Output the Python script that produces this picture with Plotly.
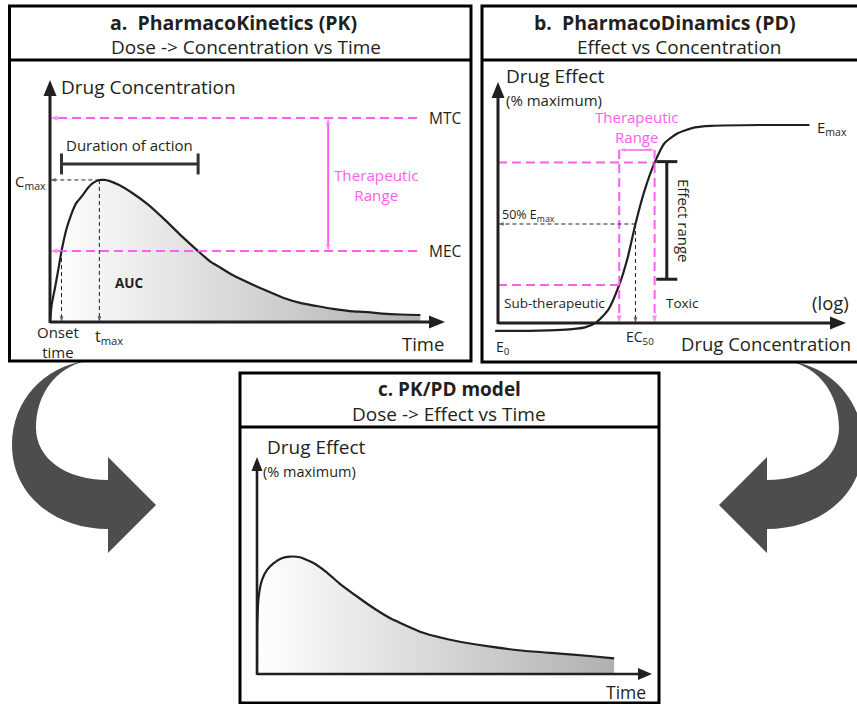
import plotly.graph_objects as go

W, H = 857, 704
FONT = "Open Sans"
INK = "#231f20"
PINK = "#ff5eee"
ARROW_GRAY = "#4d4d4f"

# ---------------- data ----------------
# a. PK: concentration (arbitrary units 0-100) vs time (h)
pk_time = [0, 0.1, 0.3, 0.5, 0.7, 1.0, 1.3, 1.6, 2.0, 2.3, 2.6, 3.0, 3.3, 3.6, 4.2, 5.0, 6.0,
           7.0, 8.0, 9.0, 9.7, 10.2, 11.1, 12.1, 13.2, 14.2, 15.2, 16.2, 17.2, 18.2, 19.3,
           20.2, 21.3, 22.5]
pk_conc = [0, 7.0, 14.0, 21.5, 29.3, 38.4, 44.6, 49.2, 52.5, 55.4, 57.4, 58.7, 58.7, 58.3,
           56.6, 53.3, 48.3, 42.1, 35.5, 29.3, 25.2, 23.1, 19.4, 16.1, 12.8, 9.9, 7.9, 6.6,
           5.4, 4.5, 4.1, 3.5, 3.1, 2.9]
pk_mtc = 84.3
pk_mec = 29.3
pk_cmax = 58.7
pk_tmax = 3.0
pk_onset = 0.7
pk_offset = 9.0
pk_duration_level = 65.3
pk_range_time = 16.9
pk_line_end = 22.3

# b. PD: effect (% maximum) vs log concentration
pd_logc = [-0.05, 0.52, 1.09, 1.50, 1.69, 1.90, 2.09, 2.24, 2.37, 2.53, 2.70, 2.87, 3.10,
           3.39, 3.68, 4.53, 5.37]
pd_eff = [-4.0, -4.0, -3.5, -2.2, 0.2, 6.6, 19.2, 33.5, 50.0, 67.2, 81.0, 90.8, 95.8, 98.8,
          99.6, 100, 100]
pd_low_eff, pd_high_eff = 19.2, 81.0
pd_low_c, pd_high_c = 2.09, 2.70
pd_ec50, pd_e50 = 2.37, 50.0
pd_bracket_eff = 87.4
pd_effect_range_c = 2.91
pd_effect_range = [22.1, 81.5]

# c. PK/PD: effect (% maximum) vs time (h)
pkpd_time = [0, 0.02, 0.1, 0.3, 0.6, 1.0, 1.5, 2.0, 2.6, 3.4, 4.2, 5.0, 6.1, 7.1, 8.1, 10.1,
             12.1, 14.2, 16.2, 18.2, 20.2, 21.7]
pkpd_eff = [0, 23.4, 35.6, 43.3, 47.9, 51.0, 53.3, 54.1, 53.8, 51.3, 47.1, 41.8, 35.6, 30.3,
            25.7, 19.0, 15.2, 12.6, 10.7, 9.5, 8.3, 7.2]


def dx(p0, p1):
    return [p0 / W, p1 / W]


def dy(top, bot):
    return [1 - bot / H, 1 - top / H]


fig = go.Figure()

# base pixel canvas (for frames, big arrows, labels)
fig.add_trace(go.Scatter(x=[0], y=[0], mode="markers", marker=dict(opacity=0),
                         hoverinfo="skip", showlegend=False))

GRAD = dict(type="horizontal", colorscale=[[0, "#ffffff"], [1, "#b0b0b0"]])

# ---- curves ----
fig.add_trace(go.Scatter(x=pk_time, y=pk_conc, xaxis="x2", yaxis="y2", mode="lines",
                         line=dict(color=INK, width=2.2, shape="spline", smoothing=0.6),
                         fill="tozeroy", fillgradient=GRAD, hoverinfo="skip", showlegend=False))
fig.add_trace(go.Scatter(x=pd_logc, y=pd_eff, xaxis="x3", yaxis="y3", mode="lines",
                         line=dict(color=INK, width=2.2, shape="spline", smoothing=0.6),
                         hoverinfo="skip", showlegend=False))
fig.add_trace(go.Scatter(x=pkpd_time, y=pkpd_eff, xaxis="x4", yaxis="y4", mode="lines",
                         line=dict(color=INK, width=2.2, shape="spline", smoothing=0.5),
                         fill="tozeroy", fillgradient=GRAD, hoverinfo="skip", showlegend=False))


def guide(x, y, xa, ya, color, width, dash, size=8):
    sizes = [0] * (len(x) - 1) + [size]
    fig.add_trace(go.Scatter(x=x, y=y, xaxis=xa, yaxis=ya, mode="lines+markers",
                             line=dict(color=color, width=width, dash=dash),
                             marker=dict(symbol="arrow", size=sizes, angleref="previous",
                                         color=color, line=dict(width=0)),
                             hoverinfo="skip", showlegend=False))


PD_DASH = "9px,5px"
BK_DASH = "4px,3px"

# panel a guides
guide([pk_line_end, 0], [pk_mtc, pk_mtc], "x2", "y2", PINK, 2, PD_DASH, 8)
guide([pk_line_end, 0], [pk_mec, pk_mec], "x2", "y2", PINK, 2, PD_DASH, 8)
mid = (pk_mtc + pk_mec) / 2
guide([pk_range_time, pk_range_time], [mid, pk_mtc], "x2", "y2", PINK, 2, "solid", 7)
guide([pk_range_time, pk_range_time], [mid, pk_mec], "x2", "y2", PINK, 2, "solid", 7)
guide([pk_tmax, 0], [pk_cmax, pk_cmax], "x2", "y2", INK, 1, BK_DASH, 6)
guide([pk_tmax, pk_tmax], [pk_cmax, 0], "x2", "y2", INK, 1, BK_DASH, 6)
guide([pk_onset, pk_onset], [pk_mec, 0], "x2", "y2", INK, 1, BK_DASH, 6)
fig.add_trace(go.Scatter(x=[pk_onset, pk_offset], y=[pk_duration_level] * 2, xaxis="x2",
                         yaxis="y2", mode="lines+markers", line=dict(color="#333333", width=3),
                         marker=dict(symbol="line-ns", size=15,
                                     line=dict(color="#333333", width=3)),
                         hoverinfo="skip", showlegend=False))

# panel b guides
fig.add_trace(go.Scatter(x=[0, pd_high_c], y=[pd_high_eff] * 2, xaxis="x3", yaxis="y3",
                         mode="lines", line=dict(color=PINK, width=2, dash=PD_DASH),
                         hoverinfo="skip", showlegend=False))
fig.add_trace(go.Scatter(x=[0, pd_low_c], y=[pd_low_eff] * 2, xaxis="x3", yaxis="y3",
                         mode="lines", line=dict(color=PINK, width=2, dash=PD_DASH),
                         hoverinfo="skip", showlegend=False))
guide([pd_low_c, pd_low_c], [pd_bracket_eff, 0], "x3", "y3", PINK, 2, PD_DASH, 8)
guide([pd_high_c, pd_high_c], [pd_bracket_eff, 0], "x3", "y3", PINK, 2, PD_DASH, 8)
cmid = (pd_low_c + pd_high_c) / 2
guide([cmid, pd_low_c], [pd_bracket_eff] * 2, "x3", "y3", PINK, 1.5, "solid", 6)
guide([cmid, pd_high_c], [pd_bracket_eff] * 2, "x3", "y3", PINK, 1.5, "solid", 6)
guide([pd_ec50, 0], [pd_e50] * 2, "x3", "y3", INK, 1, BK_DASH, 6)
guide([pd_ec50, pd_ec50], [pd_e50, 0], "x3", "y3", INK, 1, BK_DASH, 6)
fig.add_trace(go.Scatter(x=[pd_effect_range_c] * 2, y=pd_effect_range, xaxis="x3", yaxis="y3",
                         mode="lines+markers", line=dict(color=INK, width=3),
                         marker=dict(symbol="line-ew", size=15, line=dict(color=INK, width=3)),
                         hoverinfo="skip", showlegend=False))

# ---- shapes (frames, axes, big arrows) in pixel canvas ----
shapes = []


def rect(x0, y0, x1, y1):
    shapes.append(dict(type="rect", xref="x", yref="y", x0=x0, y0=y0, x1=x1, y1=y1,
                       line=dict(color="black", width=3), fillcolor="rgba(0,0,0,0)"))


def hline(x0, x1, y, w=3, color="black"):
    shapes.append(dict(type="line", xref="x", yref="y", x0=x0, x1=x1, y0=y, y1=y,
                       line=dict(color=color, width=w)))


def vline(x, y0, y1, w=3, color="black"):
    shapes.append(dict(type="line", xref="x", yref="y", x0=x, x1=x, y0=y0, y1=y1,
                       line=dict(color=color, width=w)))


def tri_up(x, y, L=16, hw=6.5):
    shapes.append(dict(type="path", xref="x", yref="y",
                       path=f"M {x} {y} L {x - hw} {y + L} L {x + hw} {y + L} Z",
                       fillcolor=INK, line=dict(width=0)))


def tri_right(x, y, L=16, hw=6.5):
    shapes.append(dict(type="path", xref="x", yref="y",
                       path=f"M {x} {y} L {x - L} {y - hw} L {x - L} {y + hw} Z",
                       fillcolor=INK, line=dict(width=0)))


# frames
rect(9.5, 6, 471, 361)
hline(9.5, 471, 60)
rect(482, 6, 870, 362)
hline(482, 870, 60)
rect(240, 373, 659, 703)
hline(240, 659, 427)

# axes panel a
vline(50, 323, 94, 3, INK); tri_up(50, 80)
hline(50, 431, 322, 3, INK); tri_right(445, 322)
# axes panel b
vline(498, 324, 96, 3, INK); tri_up(498, 82)
hline(498, 832, 323, 3, INK); tri_right(846, 323)
# axes panel c
vline(257, 675, 470, 2.6, INK); tri_up(257, 457, 14, 5.5)
hline(257, 639, 674, 2.6, INK); tri_right(652, 674, 14, 6)

# big curved arrows
left_arrow = ("M 86 361 C 45 366, 12 400, 12 445 C 12 495, 55 529, 108 529 "
              "L 108 553 L 156 505 L 108 457 L 108 480 "
              "C 65 480, 36 458, 36 428 C 36 395, 55 368, 86 361 Z")
right_arrow = ("M 789 361 C 830 366, 863 400, 863 445 C 863 495, 820 529, 767 529 "
               "L 767 553 L 719 505 L 767 457 L 767 480 "
               "C 810 480, 839 458, 839 428 C 839 395, 820 368, 789 361 Z")
for p in (left_arrow, right_arrow):
    shapes.append(dict(type="path", xref="x", yref="y", path=p, fillcolor=ARROW_GRAY,
                       line=dict(width=0), layer="below"))

# ---- text ----
ann = []


def t(x, y, text, size=15, color=INK, xanchor="left", angle=0, align="left"):
    ann.append(dict(x=x, y=y, xref="x", yref="y", text=text, showarrow=False,
                    xanchor=xanchor, yanchor="middle", textangle=angle, align=align,
                    font=dict(family=FONT, size=size, color=color)))


# panel a
t(233, 22, "<b>a.  PharmacoKinetics (PK)</b>", 19.5, xanchor="center")
t(246, 47, "Dose -&gt; Concentration vs Time", 19, xanchor="center")
t(59, 87, "Drug Concentration", 19)
t(427, 118, "MTC", 15.5)
t(427, 251, "MEC", 15.5)
t(376, 185, "Therapeutic<br>Range", 15.2, PINK, "center", align="center")
t(64, 145, "Duration of action", 15)
t(48, 182, "C<sub>max</sub>", 15, xanchor="right")
t(129, 283, "<b>AUC</b>", 13.5, xanchor="center")
t(58, 342, "Onset<br>time", 15, xanchor="center", align="center")
t(93, 336, "t<sub>max</sub>", 16)
t(400, 343, "Time", 18.5)

# panel b
t(665, 22, "<b>b.  PharmacoDinamics (PD)</b>", 19.5, xanchor="center")
t(679, 47, "Effect vs Concentration", 19, xanchor="center")
t(504, 76, "Drug Effect", 19)
t(504, 100, "(% maximum)", 15)
t(636, 127, "Therapeutic<br>Range", 15, PINK, "center", align="center")
t(815, 128, "E<sub>max</sub>", 15)
t(500, 215, "50% E<sub>max</sub>", 12.5)
t(684, 221, "Effect range", 15, xanchor="center", angle=90)
t(502, 303, "Sub-therapeutic", 13.5)
t(664, 303, "Toxic", 13.5)
t(851, 302, "(log)", 18.5, xanchor="right")
t(624, 337, "EC<sub>50</sub>", 14)
t(494, 347, "E<sub>0</sub>", 14)
t(679, 343, "Drug Concentration", 18.5)

# panel c
t(449, 389, "<b>c. PK/PD model</b>", 19, xanchor="center")
t(449, 414, "Dose -&gt; Effect vs Time", 19, xanchor="center")
t(265, 447, "Drug Effect", 19)
t(261, 471, "(% maximum)", 14.5)
t(604, 692, "Time", 17.5)

hidden = dict(visible=False, fixedrange=True)
fig.update_layout(
    width=W, height=H, margin=dict(l=0, r=0, t=0, b=0),
    paper_bgcolor="white", plot_bgcolor="rgba(0,0,0,0)", showlegend=False,
    xaxis=dict(domain=[0, 1], range=[0, W], **hidden),
    yaxis=dict(domain=[0, 1], range=[H, 0], **hidden),
    xaxis2=dict(domain=dx(50, 445), range=[0, 24], anchor="y2", **hidden),
    yaxis2=dict(domain=dy(80, 322), range=[0, 100], anchor="x2", **hidden),
    xaxis3=dict(domain=dx(490, 846), range=[-8 / 58, 348 / 58], anchor="y3", **hidden),
    yaxis3=dict(domain=dy(82, 340), range=[-17 / 1.98, 241 / 1.98], anchor="x3", **hidden),
    xaxis4=dict(domain=dx(257, 652), range=[0, 24], anchor="y4", **hidden),
    yaxis4=dict(domain=dy(457, 674), range=[0, 100], anchor="x4", **hidden),
    shapes=shapes, annotations=ann,
)

fig.write_html("out.html")
